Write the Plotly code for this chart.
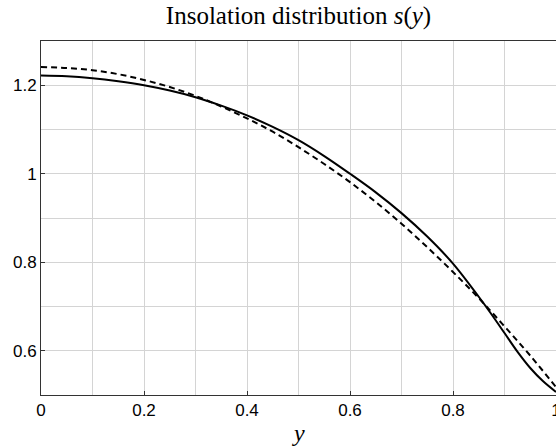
import plotly.graph_objects as go

# data
y_solid = [0.0, 0.05, 0.1, 0.15, 0.2, 0.25, 0.3, 0.35, 0.4, 0.45, 0.5, 0.55, 0.6,
           0.65, 0.7, 0.75, 0.8, 0.85, 0.875, 0.9, 0.925, 0.95, 0.975, 1.0]
s_solid = [1.222, 1.2205, 1.216, 1.209, 1.200, 1.188, 1.173, 1.154, 1.132, 1.106,
           1.076, 1.040, 1.000, 0.958, 0.911, 0.858, 0.797, 0.722, 0.682, 0.640,
           0.598, 0.561, 0.531, 0.507]

y_dash = [0.0, 0.05, 0.1, 0.15, 0.2, 0.25, 0.3, 0.35, 0.4, 0.45, 0.5, 0.55, 0.6,
          0.65, 0.7, 0.75, 0.8, 0.85, 0.9, 0.95, 1.0]
s_dash = [1.241, 1.239, 1.234, 1.225, 1.212, 1.196, 1.176, 1.152, 1.125, 1.095,
          1.060, 1.022, 0.981, 0.936, 0.887, 0.834, 0.778, 0.719, 0.655, 0.589, 0.518]

x_ticks = [0, 0.2, 0.4, 0.6, 0.8, 1]
x_labels = ["0", "0.2", "0.4", "0.6", "0.8", "1"]
y_ticks = [0.6, 0.8, 1.0, 1.2]
y_labels = ["0.6", "0.8", "1", "1.2"]

fig = go.Figure()
fig.add_trace(go.Scatter(x=y_solid, y=s_solid, mode="lines",
                         line=dict(color="black", width=2, shape="spline"),
                         showlegend=False))
fig.add_trace(go.Scatter(x=y_dash, y=s_dash, mode="lines",
                         line=dict(color="black", width=2, dash="6px,4px", shape="spline"),
                         showlegend=False))

W, H = 556, 447
L, R, T, B = 41, 0, 41, 52
axis_common = dict(
    showline=True, linecolor="#333333", linewidth=1, mirror=True,
    ticks="inside", ticklen=4, tickcolor="#333333",
    showgrid=True, gridcolor="#d4d4d4", gridwidth=1,
    zeroline=False, automargin=False, ticklabeloverflow="allow",
    tickfont=dict(family="Liberation Sans, Arial, sans-serif", size=17, color="black"),
)
fig.update_layout(
    width=W, height=H,
    margin=dict(l=L, r=R, t=T, b=B, pad=0),
    plot_bgcolor="white", paper_bgcolor="white",
    title=dict(text="Insolation distribution <i>s</i>(<i>y</i>)",
               font=dict(family="Liberation Serif, Times New Roman, serif", size=25, color="black"),
               x=0.5, xref="paper", xanchor="center",
               y=1 - 15 / H, yref="container", yanchor="middle"),
    xaxis=dict(range=[0, 1], tickvals=x_ticks, ticktext=x_labels,
               minor=dict(dtick=0.1, tick0=0, showgrid=True, gridcolor="#d4d4d4", gridwidth=1, ticks=""),
               **axis_common),
    yaxis=dict(range=[0.5, 1.3], tickvals=y_ticks, ticktext=y_labels,
               minor=dict(dtick=0.1, tick0=0.5, showgrid=True, gridcolor="#d4d4d4", gridwidth=1, ticks=""),
               **axis_common),
)
plot_h = H - T - B
fig.add_annotation(text="<i>y</i>", xref="paper", yref="paper", x=0.5,
                   y=-(433 - (H - B)) / plot_h, xanchor="center", yanchor="middle",
                   showarrow=False,
                   font=dict(family="Liberation Serif, Times New Roman, serif", size=24, color="black"))
fig.write_html("out.html", config={"displayModeBar": False},
               post_script="document.body.style.margin='0px';document.body.style.overflow='hidden';")
